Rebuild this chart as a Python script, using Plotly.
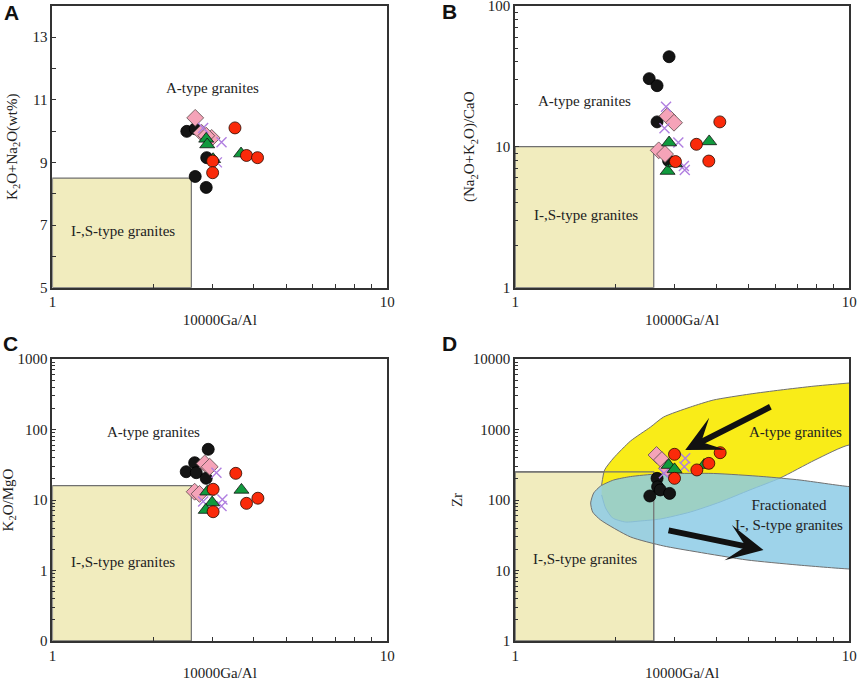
import numpy as np
import plotly.graph_objects as go

# ---------------- data ----------------
# Panel A : 10000Ga/Al vs K2O+Na2O (wt%)
A_black_x = [2.52, 2.67, 2.89, 2.67, 2.88]
A_black_y = [9.99, 10.07, 9.15, 8.55, 8.20]
A_red_x = [3.51, 3.01, 3.01, 3.80, 4.10]
A_red_y = [10.10, 9.04, 8.67, 9.22, 9.15]
A_green_x = [2.88, 2.90, 3.02, 3.66]
A_green_y = [9.75, 9.57, 9.10, 9.28]
A_pink_x = [2.67, 2.79, 2.99, 2.88]
A_pink_y = [10.42, 9.94, 9.78, 9.85]
A_purple_x = [2.82, 3.20, 3.10]
A_purple_y = [10.10, 9.64, 9.00]

# Panel B : 10000Ga/Al vs (Na2O+K2O)/CaO
B_black_x = [2.89, 2.52, 2.66, 2.66, 2.88]
B_black_y = [43.5, 30.4, 27.1, 15.0, 7.96]
B_red_x = [4.10, 3.49, 3.80, 3.02]
B_red_y = [15.0, 10.4, 7.91, 7.85]
B_green_x = [2.89, 3.81, 2.86, 3.01]
B_green_y = [10.7, 10.9, 6.72, 7.6]
B_pink_x = [2.69, 2.86, 2.99, 2.81]
B_pink_y = [9.42, 16.5, 14.8, 8.87]
B_purple_x = [2.83, 2.80, 3.08, 3.22, 3.20]
B_purple_y = [19.2, 13.5, 10.7, 6.83, 7.3]

# Panel C : 10000Ga/Al vs K2O/MgO
C_black_x = [2.92, 2.66, 2.51, 2.69, 2.88]
C_black_y = [52.4, 33.8, 25.2, 24.4, 20.3]
C_red_x = [3.53, 3.02, 3.80, 4.11, 3.02]
C_red_y = [23.9, 14.2, 8.97, 10.6, 6.82]
C_green_x = [2.90, 3.67, 3.00, 2.87]
C_green_y = [13.1, 13.9, 9.2, 7.2]
C_pink_x = [2.85, 2.95, 2.66, 2.75]
C_pink_y = [33.0, 29.6, 13.1, 12.2]
C_purple_x = [3.09, 2.82, 3.22, 3.20]
C_purple_y = [24.4, 9.5, 10.2, 8.2]

# Panel D : 10000Ga/Al vs Zr
D_black_x = [2.66, 2.67, 2.53, 2.72, 2.90]
D_black_y = [203, 154, 114, 139, 124]
D_red_x = [3.00, 3.00, 3.50, 3.80, 4.11]
D_red_y = [445, 203, 267, 331, 469]
D_green_x = [2.88, 3.00, 3.68]
D_green_y = [313, 272, 313]
D_pink_x = [2.65, 2.75, 2.85]
D_pink_y = [435, 369, 282]
D_purple_x = [3.23, 3.21, 2.79]
D_purple_y = [390, 297, 239]

# discrimination fields (Whalen et al.)
IS_gaal_max = 2.6
A_IS_top = 8.5
B_IS_top = 10
C_IS_top = 16
D_IS_top = 250

# A-type field in Zr diagram (open to the right, clipped at the frame)
Atype_x = [1.815, 1.853, 1.971, 2.215, 2.542, 2.782, 3.348, 3.922, 5.047, 6.216, 7.904, 10.0, 12.0,
           12.0, 10.0, 7.90, 6.216, 5.047, 4.11, 3.348, 2.722, 2.371, 2.141, 1.957, 1.865, 1.815]
Atype_y = [163, 267, 394, 687, 1084, 1504, 2085, 2620, 3189, 3631, 4140, 4571, 4900,
           540, 603, 369, 205, 139, 93.7, 67.6, 53.8, 50.4, 48.7, 55.6, 77, 118]
# Fractionated I-, S-type field
Frac_x = [1.683, 1.718, 1.803, 1.971, 2.215, 2.667, 3.919, 5.526, 7.125, 10.0, 12.0,
          12.0, 10.0, 6.97, 4.946, 3.511, 2.779, 2.215, 1.803, 1.706, 1.683]
Frac_y = [90.7, 125.6, 158, 192, 215, 234, 238, 215, 192, 155, 150,
          10.3, 10.5, 12.0, 14.1, 18.3, 22.3, 29.9, 52, 67.6, 90.7]

# trend arrows in panel D: (tail x, tail y, head x, head y)
arrow1 = (5.87, 2154, 3.23, 512)
arrow2 = (2.85, 37.5, 5.54, 19.5)

# ---------------- styles ----------------
SERIF = "'Liberation Serif', 'Times New Roman', serif"
groups = {
    "black": dict(symbol="circle", size=12, color="#141414", line=dict(color="#000000", width=0.8)),
    "pink": dict(symbol="diamond", size=13, color="#f5a3b8", line=dict(color="#5a4a4a", width=0.8)),
    "purple": dict(symbol="x-thin-open", size=10, color="#b07fe0", line=dict(color="#b07fe0", width=1.4)),
    "green": dict(symbol="triangle-up", size=13, color="#119a3e", line=dict(color="#111111", width=0.8)),
    "red": dict(symbol="circle", size=12, color="#fa2a0a", line=dict(color="#2a0a00", width=0.8)),
}
order = ["black", "pink", "purple", "green", "red"]

panels = {
    "A": dict(x=dict(black=A_black_x, red=A_red_x, green=A_green_x, pink=A_pink_x, purple=A_purple_x),
              y=dict(black=A_black_y, red=A_red_y, green=A_green_y, pink=A_pink_y, purple=A_purple_y)),
    "B": dict(x=dict(black=B_black_x, red=B_red_x, green=B_green_x, pink=B_pink_x, purple=B_purple_x),
              y=dict(black=B_black_y, red=B_red_y, green=B_green_y, pink=B_pink_y, purple=B_purple_y)),
    "C": dict(x=dict(black=C_black_x, red=C_red_x, green=C_green_x, pink=C_pink_x, purple=C_purple_x),
              y=dict(black=C_black_y, red=C_red_y, green=C_green_y, pink=C_pink_y, purple=C_purple_y)),
    "D": dict(x=dict(black=D_black_x, red=D_red_x, green=D_green_x, pink=D_pink_x, purple=D_purple_x),
              y=dict(black=D_black_y, red=D_red_y, green=D_green_y, pink=D_pink_y, purple=D_purple_y)),
}
axes_ids = {"A": ("x", "y"), "B": ("x2", "y2"), "C": ("x3", "y3"), "D": ("x4", "y4")}
rect_bottom = {"A": 5, "B": 1, "C": 0.1, "D": 1}
rect_top = {"A": A_IS_top, "B": B_IS_top, "C": C_IS_top, "D": D_IS_top}

RECT_FILL = "#f1ecbe"
EDGE = "#707070"

fig = go.Figure()

for key in ["A", "B", "C", "D"]:
    xa, ya = axes_ids[key]
    rx = [1, IS_gaal_max, IS_gaal_max, 1, 1]
    ry = [rect_bottom[key], rect_bottom[key], rect_top[key], rect_top[key], rect_bottom[key]]
    fig.add_trace(go.Scatter(x=rx, y=ry, mode="lines", fill="toself", fillcolor=RECT_FILL,
                             line=dict(color=EDGE, width=1.2), xaxis=xa, yaxis=ya,
                             hoverinfo="skip", showlegend=False))
    if key == "D":
        fig.add_trace(go.Scatter(x=Atype_x, y=Atype_y, mode="lines", fill="toself",
                                 fillcolor="rgba(249,236,24,1)", line=dict(color=EDGE, width=1, shape="spline", smoothing=0.6),
                                 xaxis=xa, yaxis=ya, hoverinfo="skip", showlegend=False))
        fig.add_trace(go.Scatter(x=Frac_x, y=Frac_y, mode="lines", fill="toself",
                                 fillcolor="rgba(140,202,230,0.84)", line=dict(color=EDGE, width=1, shape="spline", smoothing=0.6),
                                 xaxis=xa, yaxis=ya, hoverinfo="skip", showlegend=False))
        # rectangle outline redrawn on top
        fig.add_trace(go.Scatter(x=[1, IS_gaal_max, IS_gaal_max], y=[D_IS_top, D_IS_top, rect_bottom[key]],
                                 mode="lines", line=dict(color=EDGE, width=1.2), xaxis=xa, yaxis=ya,
                                 hoverinfo="skip", showlegend=False))
    for g in order:
        st = groups[g]
        fig.add_trace(go.Scatter(x=panels[key]["x"][g], y=panels[key]["y"][g], mode="markers",
                                 marker=dict(symbol=st["symbol"], size=st["size"], color=st["color"], line=st["line"]),
                                 xaxis=xa, yaxis=ya, showlegend=False, cliponaxis=False))

# ---------------- axes ----------------
FS = 15
tickfont = dict(family=SERIF, size=FS, color="#222222")
titlefont = dict(family=SERIF, size=FS, color="#222222")
axis_common = dict(showline=True, linecolor="#333333", linewidth=1.5, mirror=True, showgrid=False,
                   zeroline=False, ticks="inside", ticklen=4, tickcolor="#333333", tickfont=tickfont,
                   automargin=False, ticklabeloverflow="allow")
EPS = 0.0005

def xaxis_def(domain, anchor):
    return dict(axis_common, type="log", range=[-EPS, 1 + EPS], domain=domain, anchor=anchor,
                tickvals=[1, 10], ticktext=["1", "10"], ticklen=0,
                minor=dict(tickvals=[2, 3, 4, 5, 6, 7, 8, 9], ticks="inside", ticklen=4, tickcolor="#333333"),
                title=dict(text="10000Ga/Al", font=titlefont, standoff=5))

def log_minor(lo, hi):
    vals = []
    for e in range(lo, hi):
        for m in range(2, 10):
            vals.append(m * 10 ** e)
    return vals

xA = [52.3 / 858, 387.3 / 858]
xB = [515 / 858, 849.3 / 858]
yTop = [1 - 287.7 / 681, 1 - 5.7 / 681]
yBot = [1 - 641 / 681, 1 - 359 / 681]

fig.update_layout(
    width=858, height=681,
    margin=dict(l=0, r=0, t=0, b=0, autoexpand=False),
    paper_bgcolor="white", plot_bgcolor="white",
    showlegend=False,
    font=dict(family=SERIF, size=FS, color="#222222"),
    xaxis=xaxis_def(xA, "y"),
    xaxis2=xaxis_def(xB, "y2"),
    xaxis3=xaxis_def(xA, "y3"),
    xaxis4=xaxis_def(xB, "y4"),
    yaxis=dict(axis_common, range=[5, 14], domain=yTop, anchor="x", tickvals=[5, 7, 9, 11, 13],
               minor=dict(tickvals=[6, 8, 10, 12], ticks="inside", ticklen=4, tickcolor="#333333"),
               title=dict(text="K<sub>2</sub>O+Na<sub>2</sub>O(wt%)", font=titlefont, standoff=11)),
    yaxis2=dict(axis_common, type="log", range=[-EPS, 2 + EPS], domain=yTop, anchor="x2", tickvals=[1, 10, 100],
                ticktext=["1", "10", "100"],
                minor=dict(tickvals=log_minor(0, 2), ticks="inside", ticklen=3, tickcolor="#333333"),
                title=dict(text="(Na<sub>2</sub>O+K<sub>2</sub>O)/CaO", font=titlefont, standoff=9)),
    yaxis3=dict(axis_common, type="log", range=[-1 - EPS, 3 + EPS], domain=yBot, anchor="x3",
                tickvals=[0.1, 1, 10, 100, 1000], ticktext=["0", "1", "10", "100", "1000"],
                minor=dict(tickvals=log_minor(-1, 3), ticks="inside", ticklen=3, tickcolor="#333333"),
                title=dict(text="K<sub>2</sub>O/MgO", font=titlefont, standoff=7)),
    yaxis4=dict(axis_common, type="log", range=[-EPS, 4 + EPS], domain=yBot, anchor="x4",
                tickvals=[1, 10, 100, 1000, 10000], ticktext=["1", "10", "100", "1000", "10000"],
                minor=dict(tickvals=log_minor(0, 4), ticks="inside", ticklen=3, tickcolor="#333333"),
                title=dict(text="Zr", font=titlefont, standoff=7)),
)

# ---------------- annotations ----------------
lab = dict(family=SERIF, size=FS, color="#222222")
ann = []
def txt(text, x, y, xref, yref):
    ann.append(dict(text=text, x=x, y=y, xref=xref, yref=yref, showarrow=False, font=lab))

lg = np.log10
txt("A-type granites", lg(3.01), 11.36, "x", "y")
txt("I-,S-type granites", lg(1.62), 6.8, "x", "y")
txt("A-type granites", lg(1.61), lg(21.1), "x2", "y2")
txt("I-,S-type granites", lg(1.63), lg(3.26), "x2", "y2")
txt("A-type granites", lg(2.01), lg(91), "x3", "y3")
txt("I-,S-type granites", lg(1.62), lg(1.31), "x3", "y3")
txt("A-type granites", lg(6.93), lg(912), "x4", "y4")
txt("Fractionated<br>I-, S-type granites", lg(6.62), lg(61), "x4", "y4")
txt("I-,S-type granites", lg(1.62), lg(14.6), "x4", "y4")

for (tx, ty, hx, hy) in [arrow1, arrow2]:
    ann.append(dict(x=lg(hx), y=lg(hy), ax=lg(tx), ay=lg(ty), xref="x4", yref="y4",
                    axref="x4", ayref="y4", showarrow=True, arrowhead=3, arrowsize=1.0,
                    arrowwidth=6, arrowcolor="#111111", text=""))

letter = dict(family="'Liberation Sans', Arial, sans-serif", size=21, color="#111111")
for t, px, py in [("A", 11, 12.7), ("B", 449, 11.7), ("C", 10, 343.3), ("D", 449.3, 343.3)]:
    ann.append(dict(text="<b>%s</b>" % t, x=px / 858, y=1 - py / 681, xref="paper", yref="paper",
                    showarrow=False, font=letter, xanchor="center", yanchor="middle"))

fig.update_layout(annotations=ann)
fig.write_html("out.html", config={"displayModeBar": False},
               post_script="document.body.style.margin='0px';document.body.style.padding='0px';"
                           "document.documentElement.style.overflow='hidden';")
